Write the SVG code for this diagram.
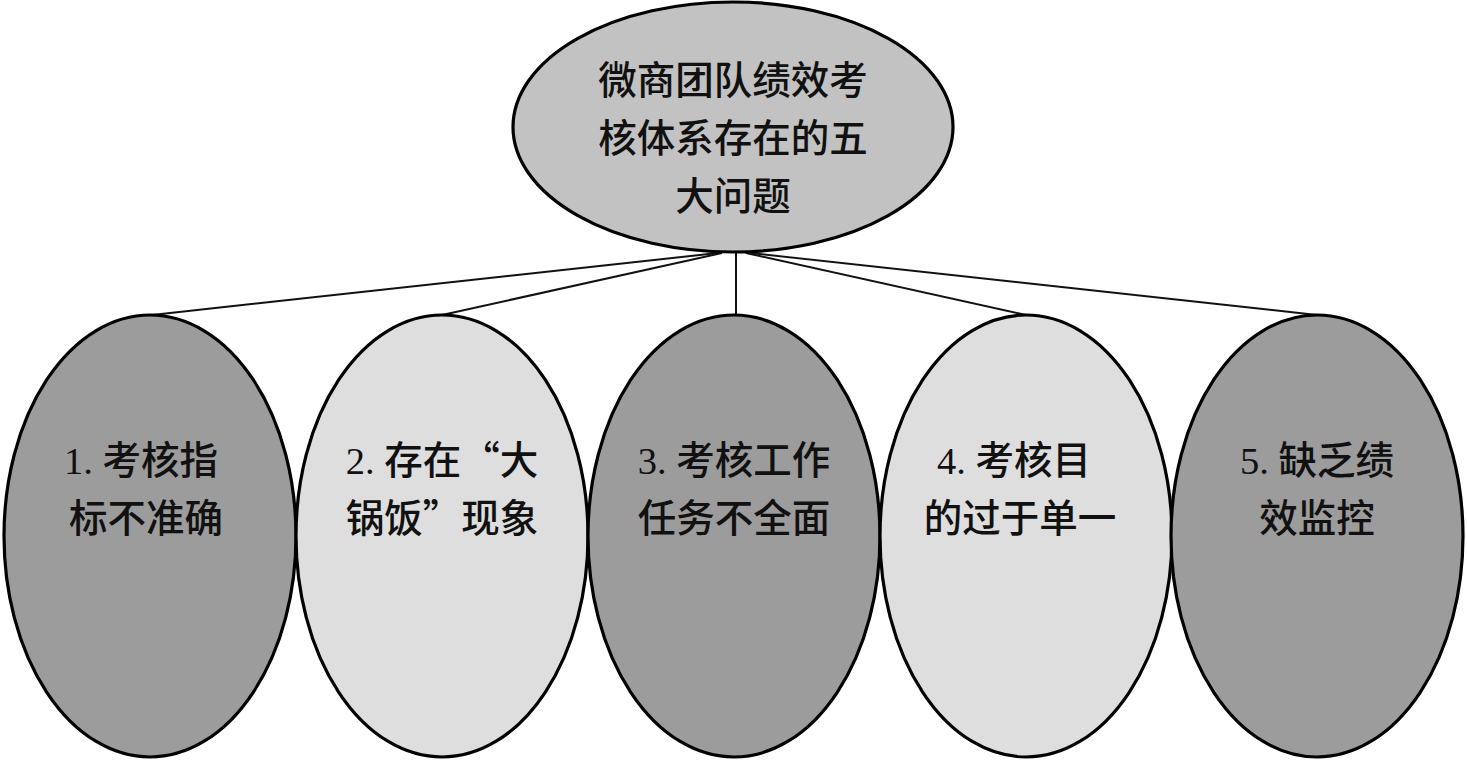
<svg xmlns="http://www.w3.org/2000/svg" width="1467" height="763" viewBox="0 0 1467 763">
<style>
.node{stroke:#000;stroke-width:3.2}
.top{fill:#c2c2c2}
.dark{fill:#9c9c9c}
.light{fill:#dedede}
.conn line{stroke:#111;stroke-width:2}
text{font-family:"Noto Sans CJK SC","Liberation Serif",sans-serif;font-size:38.5px;font-weight:500;fill:#111;text-anchor:middle}
.num{font-family:"Liberation Serif",serif;font-weight:normal}
</style>
<rect width="1467" height="763" fill="#fff"/>
<g class="conn" id="connectors">
<line x1="718" y1="253" x2="152" y2="315"/>
<line x1="722" y1="253" x2="442" y2="315"/>
<line x1="736" y1="253" x2="736" y2="315"/>
<line x1="746" y1="253" x2="1026" y2="315"/>
<line x1="750" y1="253" x2="1317" y2="315"/>
</g>
<g id="root">
<ellipse class="node top" cx="733" cy="127" rx="220" ry="125"/>
<text x="733" y="94">微商团队绩效考</text>
<text x="733" y="152">核体系存在的五</text>
<text x="733" y="210">大问题</text>
</g>
<g id="n1">
<ellipse class="node dark" cx="150" cy="536" rx="146" ry="221"/>
<text x="141" y="474"><tspan class="num">1. </tspan>考核指</text>
<text x="146" y="532">标不准确</text>
</g>
<g id="n2">
<ellipse class="node light" cx="442" cy="536" rx="146" ry="221"/>
<text x="442" y="474"><tspan class="num">2. </tspan>存在“大</text>
<text x="442" y="532">锅饭”现象</text>
</g>
<g id="n3">
<ellipse class="node dark" cx="734" cy="536" rx="146" ry="221"/>
<text x="734" y="474"><tspan class="num">3. </tspan>考核工作</text>
<text x="734" y="532">任务不全面</text>
</g>
<g id="n4">
<ellipse class="node light" cx="1026" cy="536" rx="146" ry="221"/>
<text x="1014" y="474"><tspan class="num">4. </tspan>考核目</text>
<text x="1020" y="532">的过于单一</text>
</g>
<g id="n5">
<ellipse class="node dark" cx="1317" cy="536" rx="146" ry="221"/>
<text x="1317" y="474"><tspan class="num">5. </tspan>缺乏绩</text>
<text x="1317" y="532">效监控</text>
</g>
</svg>
